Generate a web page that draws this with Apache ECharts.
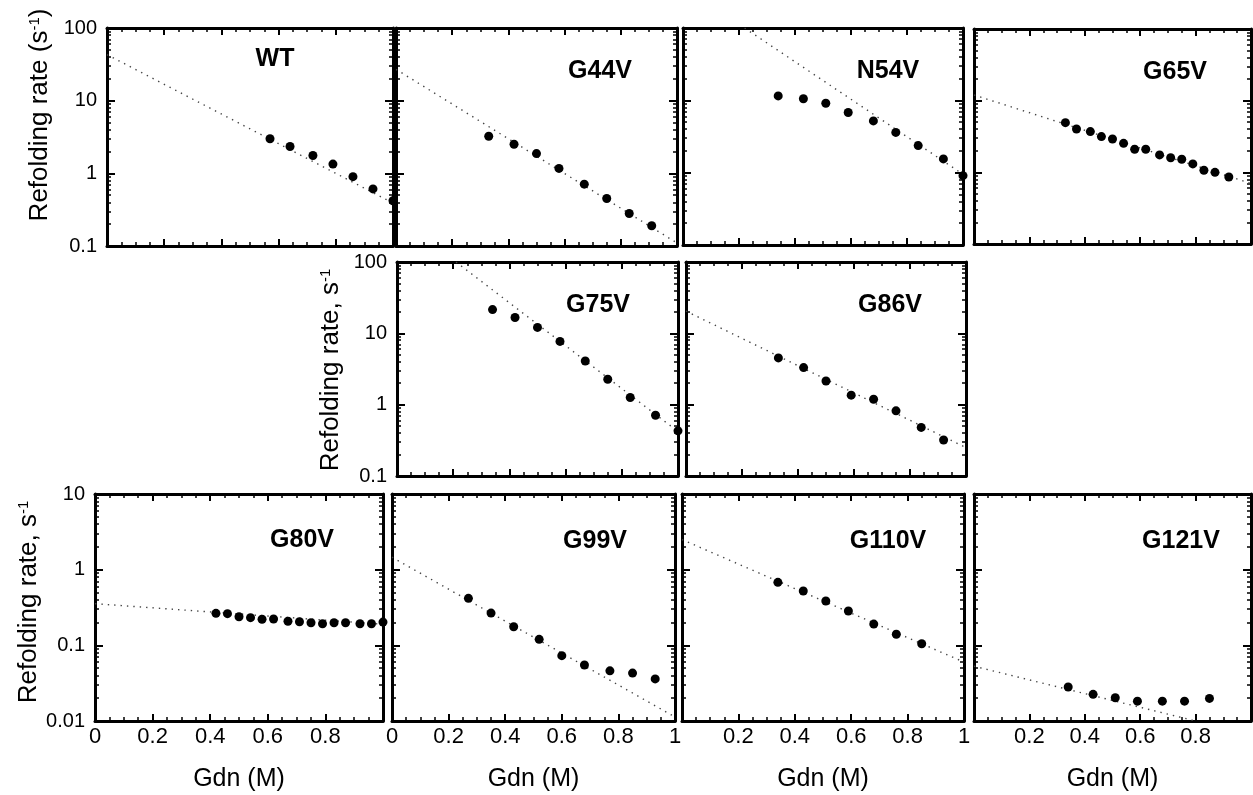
<!DOCTYPE html>
<html>
<head>
<meta charset="utf-8">
<title>Refolding rate vs Gdn</title>
<script src="https://cdn.jsdelivr.net/npm/echarts@6/dist/echarts.min.js"></script>
<style>
  html, body { margin: 0; padding: 0; background: #fff; }
  #chart { width: 1253px; height: 795px; }
</style>
</head>
<body>
<div id="chart"></div>
<script>
// ---- data (Gdn in M, rate in s^-1) ----
const gdnWT = [0.57, 0.64, 0.72, 0.79, 0.86, 0.93, 1.0];
const rateWT = [2.99, 2.34, 1.76, 1.34, 0.90, 0.61, 0.42];
const fitGdnWT = [0, 1];
const fitRateWT = [43, 0.39];

const gdnG44V = [0.33, 0.42, 0.50, 0.58, 0.67, 0.75, 0.83, 0.91];
const rateG44V = [3.24, 2.51, 1.87, 1.17, 0.71, 0.45, 0.28, 0.19];
const fitGdnG44V = [0, 1];
const fitRateG44V = [27, 0.11];

const gdnN54V = [0.34, 0.43, 0.51, 0.59, 0.68, 0.76, 0.84, 0.93, 1.0];
const rateN54V = [11.5, 10.5, 9.1, 6.8, 5.2, 3.6, 2.37, 1.55, 0.91];
const fitGdnN54V = [0.22, 1];
const fitRateN54V = [100, 0.95];

const gdnG65V = [0.33, 0.37, 0.42, 0.46, 0.50, 0.54, 0.58, 0.62, 0.67, 0.71, 0.75, 0.79, 0.83, 0.87, 0.92];
const rateG65V = [4.93, 4.03, 3.70, 3.15, 2.92, 2.54, 2.10, 2.10, 1.75, 1.60, 1.52, 1.31, 1.07, 1.00, 0.86];
const fitGdnG65V = [0, 1];
const fitRateG65V = [12, 0.7];

const gdnG75V = [0.34, 0.42, 0.50, 0.58, 0.67, 0.75, 0.83, 0.92, 1.0];
const rateG75V = [21.5, 16.7, 12.1, 7.7, 4.1, 2.27, 1.26, 0.71, 0.43];
const fitGdnG75V = [0.21, 1];
const fitRateG75V = [100, 0.42];

const gdnG86V = [0.33, 0.42, 0.50, 0.59, 0.67, 0.75, 0.84, 0.92];
const rateG86V = [4.52, 3.31, 2.15, 1.36, 1.19, 0.82, 0.48, 0.32];
const fitGdnG86V = [0, 1];
const fitRateG86V = [20.5, 0.25];

const gdnG80V = [0.42, 0.46, 0.50, 0.54, 0.58, 0.62, 0.67, 0.71, 0.75, 0.79, 0.83, 0.87, 0.92, 0.96, 1.0];
const rateG80V = [0.265, 0.262, 0.239, 0.232, 0.221, 0.223, 0.208, 0.205, 0.199, 0.193, 0.199, 0.199, 0.193, 0.193, 0.203];
const fitGdnG80V = [0, 1];
const fitRateG80V = [0.355, 0.19];

const gdnG99V = [0.27, 0.35, 0.43, 0.52, 0.60, 0.68, 0.77, 0.85, 0.93];
const rateG99V = [0.418, 0.267, 0.176, 0.120, 0.073, 0.055, 0.046, 0.043, 0.036];
const fitGdnG99V = [0, 1];
const fitRateG99V = [1.46, 0.0113];

const gdnG110V = [0.34, 0.43, 0.51, 0.59, 0.68, 0.76, 0.85];
const rateG110V = [0.68, 0.523, 0.385, 0.284, 0.191, 0.140, 0.105];
const fitGdnG110V = [0, 1];
const fitRateG110V = [2.5, 0.06];

const gdnG121V = [0.34, 0.43, 0.51, 0.59, 0.68, 0.76, 0.85];
const rateG121V = [0.0281, 0.0225, 0.0203, 0.0183, 0.0183, 0.0183, 0.0199];
const fitGdnG121V = [0, 0.8];
const fitRateG121V = [0.053, 0.01];

const rangeUpper = [0.1, 100];
const rangeLower = [0.01, 10];

const panels = [
  { name: "WT", gdn: gdnWT, rate: rateWT, fitGdn: fitGdnWT, fitRate: fitRateWT, range: rangeUpper },
  { name: "G44V", gdn: gdnG44V, rate: rateG44V, fitGdn: fitGdnG44V, fitRate: fitRateG44V, range: rangeUpper },
  { name: "N54V", gdn: gdnN54V, rate: rateN54V, fitGdn: fitGdnN54V, fitRate: fitRateN54V, range: rangeUpper },
  { name: "G65V", gdn: gdnG65V, rate: rateG65V, fitGdn: fitGdnG65V, fitRate: fitRateG65V, range: rangeUpper },
  { name: "G75V", gdn: gdnG75V, rate: rateG75V, fitGdn: fitGdnG75V, fitRate: fitRateG75V, range: rangeUpper },
  { name: "G86V", gdn: gdnG86V, rate: rateG86V, fitGdn: fitGdnG86V, fitRate: fitRateG86V, range: rangeUpper },
  { name: "G80V", gdn: gdnG80V, rate: rateG80V, fitGdn: fitGdnG80V, fitRate: fitRateG80V, range: rangeLower },
  { name: "G99V", gdn: gdnG99V, rate: rateG99V, fitGdn: fitGdnG99V, fitRate: fitRateG99V, range: rangeLower },
  { name: "G110V", gdn: gdnG110V, rate: rateG110V, fitGdn: fitGdnG110V, fitRate: fitRateG110V, range: rangeLower },
  { name: "G121V", gdn: gdnG121V, rate: rateG121V, fitGdn: fitGdnG121V, fitRate: fitRateG121V, range: rangeLower },
];

// ---- layout (pixels) ----
// xl: range of x tick labels shown under the panel
const layout = {
  WT:    { left: 107, top: 28,  width: 286, height: 218, title: [275, 59],   yLabels: true },
  G44V:  { left: 396, top: 28,  width: 281, height: 218, title: [600, 71] },
  N54V:  { left: 683, top: 28,  width: 280, height: 217, title: [888, 71] },
  G65V:  { left: 974, top: 29,  width: 277, height: 215, title: [1175, 72] },
  G75V:  { left: 397, top: 262, width: 281, height: 214, title: [598, 305],  yLabels: true },
  G86V:  { left: 686, top: 262, width: 280, height: 214, title: [890, 305] },
  G80V:  { left: 95,  top: 494, width: 288, height: 227, title: [302, 540],  yLabels: true, xl: [0, 0.8] },
  G99V:  { left: 392, top: 494, width: 283, height: 227, title: [595, 541],  xl: [0, 1] },
  G110V: { left: 682, top: 494, width: 282, height: 227, title: [888, 541],  xl: [0.2, 1] },
  G121V: { left: 974, top: 494, width: 277, height: 227, title: [1181, 541], xl: [0.2, 0.8] },
};

const FONT = '"Liberation Sans", Arial, Helvetica, sans-serif';
const frame = { color: "#000", width: 3 };

// log10 positions of the 2..9 minor ticks
function minorLogs(min, max) {
  const out = [];
  for (let d = Math.round(Math.log10(min)); d < Math.round(Math.log10(max)); d++) {
    for (let m = 2; m <= 9; m++) out.push(d + Math.log10(m));
  }
  return out;
}

const grid = [], xAxis = [], yAxis = [], series = [], graphic = [];

panels.forEach((p, i) => {
  const b = layout[p.name];
  grid.push({ left: b.left, top: b.top, width: b.width, height: b.height, containLabel: false, outerBoundsMode: "none" });

  const xBase = {
    gridIndex: i, type: "value", min: 0, max: 1, interval: 0.2,
    axisLine: { show: true, onZero: false, lineStyle: frame },
    axisTick: { show: true, inside: true, length: 7, lineStyle: { color: "#000", width: 2 } },
    minorTick: { show: true, splitNumber: 4, length: 4, lineStyle: { color: "#000", width: 1.5 } },
    splitLine: { show: false },
    minorSplitLine: { show: false },
  };
  const xl = b.xl;
  xAxis.push(Object.assign({}, xBase, {
    position: "bottom",
    axisLabel: {
      show: !!xl, color: "#000", fontSize: 22, fontFamily: FONT, margin: 5,
      formatter: (v) => {
        const r = Math.round(v * 10) / 10;
        if (!xl || r < xl[0] - 1e-6 || r > xl[1] + 1e-6) return "";
        return r === 0 ? "0" : r === 1 ? "1" : r.toFixed(1);
      },
    },
    name: xl ? "Gdn (M)" : "",
    nameLocation: "middle",
    nameGap: 46,
    nameMoveOverlap: false,
    nameTextStyle: { color: "#000", fontSize: 25, fontFamily: FONT },
  }));
  xAxis.push(Object.assign({}, xBase, { position: "top", axisLabel: { show: false } }));

  const [lo, hi] = p.range;
  const yLog = {
    gridIndex: i, type: "log", logBase: 10, min: lo, max: hi,
    axisLine: { show: true, onZero: false, lineStyle: frame },
    axisTick: { show: true, inside: true, length: 8, lineStyle: { color: "#000", width: 2 } },
    splitLine: { show: false },
  };
  yAxis.push(Object.assign({}, yLog, {
    position: "left",
    axisLabel: {
      show: !!b.yLabels, color: "#000", fontSize: 20, fontFamily: FONT, margin: 10,
      formatter: (v) => String(+(+v).toPrecision(2)),
    },
  }));
  yAxis.push(Object.assign({}, yLog, { position: "right", axisLabel: { show: false } }));

  const yMinor = {
    gridIndex: i, type: "value", min: Math.log10(lo), max: Math.log10(hi),
    axisLine: { show: false, onZero: false },
    axisTick: { show: true, inside: true, length: 4, customValues: minorLogs(lo, hi), lineStyle: { color: "#000", width: 1.5 } },
    axisLabel: { show: false },
    splitLine: { show: false },
  };
  yAxis.push(Object.assign({}, yMinor, { position: "left" }));
  yAxis.push(Object.assign({}, yMinor, { position: "right" }));

  series.push({
    name: p.name + " fit", type: "line",
    xAxisIndex: 2 * i, yAxisIndex: 4 * i,
    data: p.fitGdn.map((x, k) => [x, p.fitRate[k]]),
    symbol: "none", silent: true, z: 2,
    lineStyle: { color: "#444", width: 1.4, type: [1.4, 5], opacity: 1 },
  });
  series.push({
    name: p.name, type: "scatter",
    xAxisIndex: 2 * i, yAxisIndex: 4 * i,
    data: p.gdn.map((x, k) => [x, p.rate[k]]),
    symbol: "circle", symbolSize: 9, clip: false, z: 3,
    itemStyle: { color: "#000", opacity: 1 },
  });

  graphic.push({
    type: "text", x: b.title[0], y: b.title[1], silent: true,
    style: {
      text: p.name, fill: "#000",
      font: "bold 25px " + FONT,
      align: "center", verticalAlign: "middle",
      textAlign: "center", textVerticalAlign: "middle",
    },
  });
});

// rotated y-axis titles
const supFont = "15px " + FONT;
[
  { text: "Refolding rate (s{sup|-1})", x: 40, y: 115 },
  { text: "Refolding rate, s{sup|-1}", x: 331, y: 370 },
  { text: "Refolding rate, s{sup|-1}", x: 29, y: 602 },
].forEach((t) => {
  graphic.push({
    type: "text", x: t.x, y: t.y, rotation: Math.PI / 2, silent: true,
    style: {
      text: t.text, fill: "#000",
      font: "26px " + FONT,
      align: "center", verticalAlign: "middle",
      textAlign: "center", textVerticalAlign: "middle",
      rich: { sup: { font: supFont, fontSize: 15, fill: "#000", verticalAlign: "top" } },
    },
  });
});

const chart = echarts.init(document.getElementById("chart"), null, { renderer: "canvas" });
chart.setOption({
  animation: false,
  backgroundColor: "#fff",
  grid, xAxis, yAxis, series, graphic,
});
</script>
</body>
</html>
